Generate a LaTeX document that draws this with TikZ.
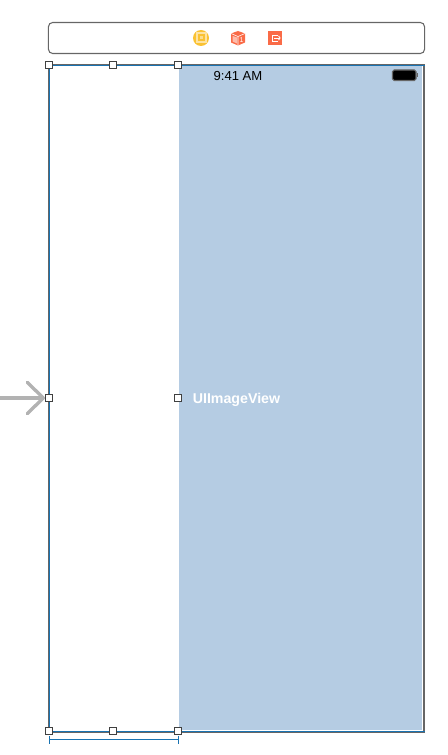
\documentclass[tikz,border=0pt]{standalone}
\usepackage{fontspec}
\setmainfont{Liberation Sans}
\usetikzlibrary{arrows.meta}

\definecolor{viewcolor}{rgb}{0.71,0.80,0.89}
\definecolor{framecolor}{rgb}{0.40,0.40,0.40}
\definecolor{selectcolor}{rgb}{0.10,0.45,0.70}
\definecolor{iconorange}{rgb}{0.98,0.42,0.28}
\definecolor{iconyellow}{rgb}{0.98,0.76,0.20}

\begin{document}
\begin{tikzpicture}[
    x=0.025cm, y=-0.025cm,
    %% One unit = one reference pixel, y running downwards
    handle/.style={draw=black!75, fill=white, line width=0.7pt, inner sep=0pt,
                   minimum size=0.175cm},
    bar/.style={draw=framecolor, rounded corners=3pt, line width=0.75pt,
                minimum width=9.4cm, minimum height=0.775cm, inner sep=0pt},
    label/.style={inner sep=0pt, anchor=base},
]
\useasboundingbox (0,0) rectangle (447,755);

%% ── Scene bar ────────────────────────────────────────────────────────────
\node[bar] (sceneBar) at (236.5,38) {};
\fill[iconyellow] (201,38) circle (8);
\fill[white!55!iconyellow] (195.5,32.5) rectangle (206.5,43.5);
\fill[iconyellow] (197.5,34.5) rectangle (204.5,41.5);
\fill[white!45!iconyellow] (199.5,36.5) rectangle (202.5,39.5);
\fill[iconorange] (231,33.5) -- (238,31) -- (245,33.5) -- (245,42.5) -- (238,45.5) -- (231,42.5) -- cycle;
\fill[white!55!iconorange] (232.5,36) -- (237,37.5) -- (237,43.5) -- (232.5,41.5) -- cycle;
\draw[white, line width=0.4pt] (231,33.5) -- (238,36.5) -- (245,33.5) (238,36.5) -- (238,45.5);
\node[label, text=white, font=\fontsize{5pt}{6pt}\selectfont] (cubeText) at (241.5,42.5) {1};
\fill[iconorange] (268,31) rectangle (282,45);
\draw[white, line width=0.6pt] (278,35) -- (272,35) -- (272,41) -- (278,41);
\draw[white, line width=0.6pt, -{Straight Barb[length=1pt,width=3pt]}] (274,38) -- (280.5,38);

%% ── View ─────────────────────────────────────────────────────────────────
\fill[viewcolor] (179,66.5) rectangle (422,730);
\draw[framecolor, line width=1pt] (48.8,65) rectangle (424,732.2);
\draw[selectcolor, line width=0.8pt] (49.7,65.5) -- (424.5,65.5);
\draw[selectcolor, line width=0.8pt] (49.7,65.5) -- (49.7,731.3);
\draw[selectcolor, line width=0.8pt] (49.7,731.3) -- (424.5,731.3);

\node[label, font=\fontsize{9.3pt}{11pt}\selectfont] (clockText) at (238,80.5) {9:41 AM};
\node[label, text=white, font=\fontsize{10.1pt}{12pt}\selectfont\bfseries] (viewText) at (236.5,403) {UIImageView};

%% ── Battery ──────────────────────────────────────────────────────────────
\draw[framecolor, fill=black, rounded corners=1.2pt, line width=0.8pt] (392.5,70) rectangle (416,80.5);
\fill[framecolor] (417,73.5) rectangle (418,77);

%% ── Handles ──────────────────────────────────────────────────────────────
\node[handle] (hNW) at (49,65)  {};
\node[handle] (hN)  at (113,65) {};
\node[handle] (hNE) at (178,65) {};
\node[handle] (hW)  at (49,398) {};
\node[handle] (hE)  at (178,398) {};
\node[handle] (hSW) at (49,731) {};
\node[handle] (hS)  at (113,731) {};
\node[handle] (hSE) at (178,731) {};

%% ── Entry arrow ──────────────────────────────────────────────────────────
\coordinate (entryStart) at (0,398);
\draw[black!30, line width=2.4pt,
      -{Straight Barb[length=0.4cm,width=0.78cm,line width=2.4pt,round]}]
    (entryStart) -- (hW.west);

%% ── Width bracket ────────────────────────────────────────────────────────
\coordinate (widthL) at (49,739.5);
\coordinate (widthR) at (178.5,739.5);
\draw[selectcolor, line width=0.6pt, {Bar[width=0.2cm]}-{Bar[width=0.2cm]}] (widthL) -- (widthR);

\end{tikzpicture}
\end{document}
